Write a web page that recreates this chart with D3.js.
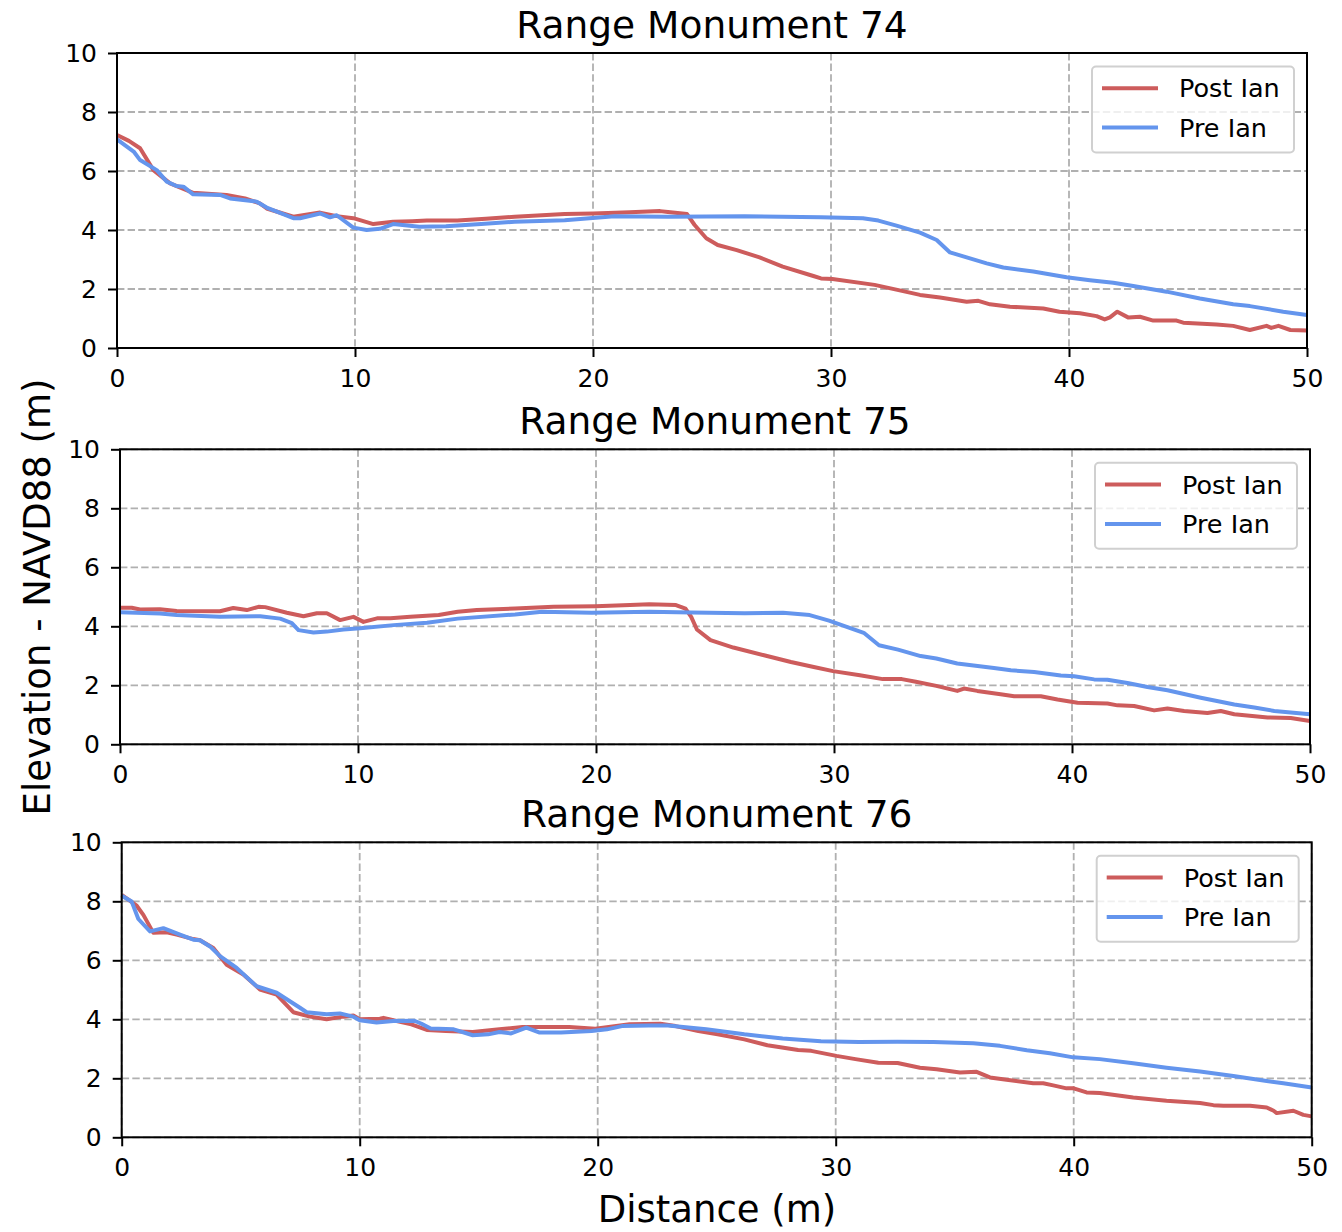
<!DOCTYPE html>
<html>
<head>
<meta charset="utf-8">
<script src="https://cdn.jsdelivr.net/npm/d3@7"></script>
<style>
  body { margin: 0; background: #fff; }
  text { font-family: 'DejaVu Sans', sans-serif; }
</style>
</head>
<body>
<div id="chart"></div>
<script>
// profiles as [distance (m), elevation (m)]
const post74 = [[0,7.22],[0.5,7.02],[0.97,6.77],[1.53,6.03],[2.23,5.58],[3.2,5.26],[4.6,5.19],[5.38,5.07],[6.0,4.9],[6.29,4.73],[7.41,4.45],[8.53,4.59],[9.23,4.47],[9.93,4.4],[10.77,4.2],[11.6,4.28],[12.4,4.3],[13.02,4.32],[14.3,4.32],[15.5,4.38],[16.71,4.45],[18.81,4.54],[20.01,4.56],[21.54,4.6],[22.82,4.64],[23.15,4.61],[23.95,4.54],[24.27,4.17],[24.76,3.72],[25.24,3.49],[26.04,3.32],[27.0,3.07],[27.97,2.76],[29.26,2.44],[29.58,2.36],[30.06,2.34],[31.83,2.14],[32.79,1.97],[33.74,1.8],[34.58,1.71],[35.7,1.57],[36.19,1.6],[36.68,1.48],[37.52,1.4],[38.92,1.34],[39.6,1.23],[40.46,1.18],[41.16,1.08],[41.5,0.97],[41.72,1.04],[42.03,1.23],[42.5,1.03],[42.98,1.06],[43.54,0.93],[44.52,0.93],[44.8,0.86],[46.2,0.8],[46.9,0.75],[47.6,0.61],[48.3,0.75],[48.5,0.68],[48.8,0.75],[49.3,0.61],[50,0.59]];
const pre74 = [[0,7.07],[0.7,6.66],[0.97,6.37],[1.67,6.03],[2.09,5.64],[2.5,5.49],[2.79,5.47],[3.2,5.21],[4.33,5.19],[4.75,5.07],[5.87,4.96],[6.29,4.76],[7.41,4.4],[7.69,4.4],[8.53,4.56],[8.95,4.43],[9.23,4.5],[9.93,4.08],[10.49,4.0],[11.05,4.04],[11.6,4.2],[12.7,4.11],[13.82,4.13],[15.3,4.2],[16.71,4.28],[18.81,4.33],[20.9,4.47],[23.15,4.45],[26.36,4.47],[29.58,4.43],[31.34,4.4],[31.99,4.32],[32.79,4.14],[33.74,3.91],[34.44,3.66],[35.0,3.24],[35.7,3.07],[36.54,2.87],[37.24,2.73],[38.5,2.59],[39.9,2.4],[40.88,2.3],[41.86,2.21],[42.7,2.1],[44.1,1.91],[45.5,1.68],[46.9,1.48],[47.6,1.42],[49.0,1.23],[50,1.12]];

const post75 = [[0,4.63],[0.49,4.63],[0.84,4.57],[1.68,4.58],[2.38,4.52],[4.2,4.51],[4.76,4.62],[5.33,4.55],[5.82,4.66],[6.1,4.65],[7.01,4.46],[7.71,4.34],[8.27,4.44],[8.69,4.44],[9.25,4.21],[9.81,4.32],[10.23,4.15],[10.8,4.27],[11.36,4.27],[12.2,4.32],[13.39,4.38],[14.19,4.49],[14.99,4.55],[16.6,4.6],[18.21,4.66],[19.98,4.68],[21.43,4.72],[22.24,4.75],[23.36,4.72],[23.76,4.6],[24.0,4.32],[24.24,3.89],[24.81,3.53],[25.77,3.28],[27.06,3.02],[28.19,2.79],[29.15,2.62],[29.96,2.48],[31.09,2.34],[32.05,2.21],[32.85,2.21],[33.44,2.12],[34.3,1.98],[35.18,1.81],[35.46,1.89],[36.02,1.81],[37.0,1.7],[37.57,1.63],[38.69,1.63],[39.39,1.52],[40.23,1.41],[41.49,1.38],[41.91,1.32],[42.61,1.3],[43.45,1.15],[44.01,1.21],[44.71,1.13],[45.69,1.06],[46.25,1.13],[46.82,1.02],[48.22,0.91],[49.19,0.89],[50,0.79]];
const pre75 = [[0,4.48],[1.68,4.43],[2.38,4.38],[4.2,4.32],[5.89,4.34],[6.73,4.26],[7.22,4.11],[7.5,3.87],[8.13,3.79],[8.69,3.82],[9.39,3.89],[10.09,3.93],[11.5,4.04],[12.9,4.12],[14.19,4.26],[16.6,4.4],[17.73,4.49],[19.82,4.46],[22.24,4.49],[24.0,4.47],[26.25,4.44],[27.86,4.46],[28.98,4.38],[29.79,4.19],[31.25,3.78],[31.89,3.36],[32.69,3.21],[33.64,2.99],[34.3,2.91],[35.18,2.74],[36.72,2.59],[37.43,2.51],[38.41,2.45],[39.53,2.33],[40.09,2.31],[40.93,2.2],[41.49,2.19],[42.33,2.08],[43.17,1.94],[44.01,1.83],[45.41,1.58],[46.82,1.35],[47.66,1.25],[48.5,1.13],[50,1.02]];

const post76 = [[0,8.22],[0.63,7.85],[0.91,7.54],[1.33,6.93],[1.89,6.95],[2.31,6.87],[3.01,6.72],[3.29,6.68],[3.85,6.42],[4.41,5.85],[5.11,5.52],[5.81,5.01],[6.51,4.84],[7.21,4.24],[7.91,4.09],[8.61,4.0],[9.31,4.09],[9.73,4.13],[10.0,4.0],[10.85,4.02],[11.0,4.05],[11.41,3.97],[12.17,3.83],[12.82,3.64],[13.62,3.6],[14.75,3.57],[15.87,3.66],[16.84,3.74],[18.13,3.74],[18.8,3.74],[19.9,3.68],[21.34,3.83],[22.63,3.85],[23.27,3.77],[24.23,3.6],[25.04,3.49],[26.16,3.32],[27.13,3.12],[28.42,2.96],[28.97,2.93],[30.03,2.76],[30.83,2.65],[31.79,2.53],[32.6,2.52],[33.54,2.36],[34.24,2.31],[35.22,2.2],[35.92,2.22],[36.48,2.03],[37.18,1.95],[38.3,1.83],[38.72,1.83],[39.14,1.76],[39.7,1.66],[40.0,1.66],[40.54,1.52],[41.1,1.5],[42.5,1.35],[43.9,1.24],[45.31,1.16],[45.87,1.09],[46.29,1.07],[47.41,1.07],[48.11,1.01],[48.4,0.9],[48.53,0.82],[49.23,0.9],[49.65,0.76],[50,0.71]];
const pre76 = [[0,8.19],[0.42,7.99],[0.7,7.4],[1.19,6.98],[1.75,7.09],[2.45,6.87],[3.01,6.7],[3.29,6.68],[3.71,6.47],[4.13,6.14],[4.83,5.74],[5.67,5.12],[6.51,4.9],[7.49,4.39],[7.77,4.24],[8.61,4.17],[9.17,4.2],[9.73,4.09],[10.0,3.97],[10.71,3.89],[11.41,3.94],[12.3,3.95],[12.6,3.85],[12.98,3.69],[13.95,3.66],[14.75,3.46],[15.4,3.49],[15.87,3.57],[16.36,3.52],[17.0,3.72],[17.56,3.55],[18.46,3.55],[19.74,3.6],[20.39,3.66],[21.02,3.77],[22.15,3.79],[22.95,3.79],[24.56,3.66],[26.16,3.49],[27.77,3.35],[29.38,3.26],[30.98,3.23],[32.59,3.24],[34.1,3.23],[35.78,3.19],[36.9,3.1],[38.03,2.95],[39.0,2.85],[39.98,2.71],[41.1,2.65],[42.5,2.51],[43.9,2.36],[45.31,2.23],[46.71,2.08],[48.11,1.91],[48.81,1.83],[50,1.69]];

const titles = ['Range Monument 74', 'Range Monument 75', 'Range Monument 76'];
const seriesNames = ['Post Ian', 'Pre Ian'];
const xTicks = [0, 10, 20, 30, 40, 50];
const yTicks = [0, 2, 4, 6, 8, 10];

const colors = ['#cd5c5c', '#6495ed'];
const panels = [
  { left: 117, top: 53, data: [post74, pre74] },
  { left: 120, top: 449.3, data: [post75, pre75] },
  { left: 121.7, top: 842.3, data: [post76, pre76] },
];
const pw = 1190;
const ph = 295;

const width = 1342;
const height = 1232;

const svg = d3.select('#chart')
  .append('svg')
  .attr('width', width)
  .attr('height', height);

panels.forEach((p, i) => {
  const x = d3.scaleLinear().domain([0, 50]).range([0, pw]);
  const y = d3.scaleLinear().domain([0, 10]).range([ph, 0]);

  const g = svg.append('g')
    .attr('transform', `translate(${p.left}, ${p.top})`);

  // grid
  g.append('g')
    .selectAll('line')
    .data(yTicks)
    .enter()
    .append('line')
    .attr('x1', 0).attr('x2', pw)
    .attr('y1', d => y(d)).attr('y2', d => y(d))
    .attr('stroke', '#b0b0b0')
    .attr('stroke-width', 1.8)
    .attr('stroke-dasharray', '7.4,3.2');
  g.append('g')
    .selectAll('line')
    .data(xTicks)
    .enter()
    .append('line')
    .attr('y1', 0).attr('y2', ph)
    .attr('x1', d => x(d)).attr('x2', d => x(d))
    .attr('stroke', '#b0b0b0')
    .attr('stroke-width', 1.8)
    .attr('stroke-dasharray', '7.4,3.2');

  const line = d3.line()
    .x(d => x(d[0]))
    .y(d => y(d[1]));

  p.data.forEach((s, j) => {
    g.append('path')
      .datum(s)
      .attr('fill', 'none')
      .attr('stroke', colors[j])
      .attr('stroke-width', 4)
      .attr('stroke-linejoin', 'round')
      .attr('d', line);
  });

  // frame
  g.append('rect')
    .attr('width', pw)
    .attr('height', ph)
    .attr('fill', 'none')
    .attr('stroke', '#000')
    .attr('stroke-width', 2);

  const xAxis = g.append('g')
    .attr('transform', `translate(0, ${ph})`)
    .call(d3.axisBottom(x).tickValues(xTicks).tickSize(9).tickPadding(12).tickFormat(d3.format('d')));
  const yAxis = g.append('g')
    .call(d3.axisLeft(y).tickValues(yTicks).tickSize(9).tickPadding(11).tickFormat(d3.format('d')));
  [xAxis, yAxis].forEach(a => {
    a.select('.domain').remove();
    a.selectAll('line').attr('stroke', '#000').attr('stroke-width', 2);
    a.selectAll('text')
      .attr('fill', '#000')
      .style('font-size', '25px')
      .style('font-family', 'DejaVu Sans');
  });

  g.append('text')
    .attr('x', pw / 2)
    .attr('y', -15)
    .attr('text-anchor', 'middle')
    .style('font-size', '37.5px')
    .text(titles[i]);

  // legend
  const lg = g.append('g')
    .attr('transform', `translate(${pw - 13 - 202}, 13.5)`);
  lg.append('rect')
    .attr('width', 202)
    .attr('height', 86)
    .attr('rx', 4)
    .attr('fill', 'rgba(255,255,255,0.8)')
    .attr('stroke', '#d0d0d0')
    .attr('stroke-width', 2);
  seriesNames.forEach((name, j) => {
    const yy = 21.7 + j * 39.4;
    lg.append('line')
      .attr('x1', 10).attr('x2', 66)
      .attr('y1', yy).attr('y2', yy)
      .attr('stroke', colors[j])
      .attr('stroke-width', 4);
    lg.append('text')
      .attr('x', 87)
      .attr('y', yy)
      .attr('dy', '0.36em')
      .style('font-size', '25.5px')
      .text(name);
  });
});

svg.append('text')
  .attr('transform', 'translate(37, 597) rotate(-90)')
  .attr('text-anchor', 'middle')
  .attr('dy', '0.36em')
  .style('font-size', '37px')
  .text('Elevation - NAVD88 (m)');

svg.append('text')
  .attr('x', 717)
  .attr('y', 1222)
  .attr('text-anchor', 'middle')
  .style('font-size', '37px')
  .text('Distance (m)');
</script>
</body>
</html>
